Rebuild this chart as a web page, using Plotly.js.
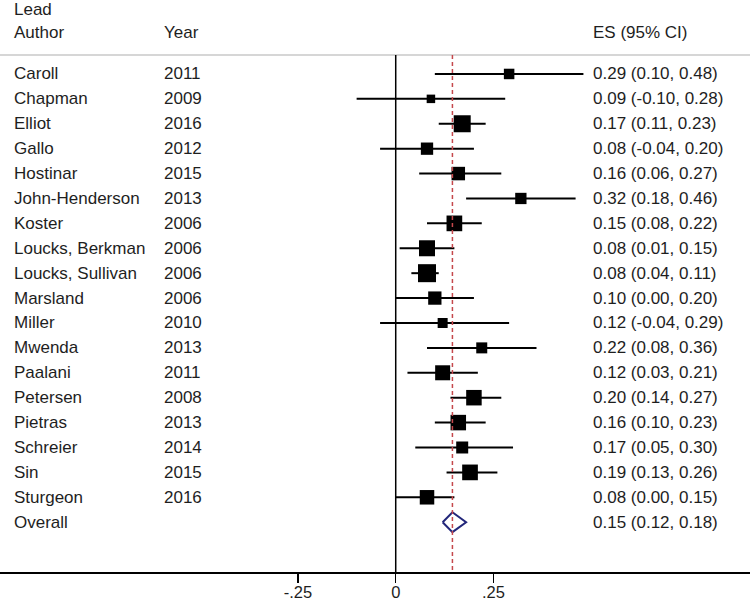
<!DOCTYPE html>
<html>
<head>
<meta charset="utf-8">
<script src="https://cdn.plot.ly/plotly-3.0.1.min.js"></script>
<style>html,body{margin:0;padding:0;background:#fff;}#chart{width:750px;height:602px;}</style>
</head>
<body>
<div id="chart"></div>
<script>
// ---- data ----
var authors = ["Caroll","Chapman","Elliot","Gallo","Hostinar","John-Henderson","Koster","Loucks, Berkman","Loucks, Sullivan","Marsland","Miller","Mwenda","Paalani","Petersen","Pietras","Schreier","Sin","Sturgeon"];
var years = ["2011","2009","2016","2012","2015","2013","2006","2006","2006","2006","2010","2013","2011","2008","2013","2014","2015","2016"];
var es = [0.29,0.09,0.17,0.08,0.16,0.32,0.15,0.08,0.08,0.10,0.12,0.22,0.12,0.20,0.16,0.17,0.19,0.08];
var lo = [0.10,-0.10,0.11,-0.04,0.06,0.18,0.08,0.01,0.04,0.00,-0.04,0.08,0.03,0.14,0.10,0.05,0.13,0.00];
var hi = [0.48,0.28,0.23,0.20,0.27,0.46,0.22,0.15,0.11,0.20,0.29,0.36,0.21,0.27,0.23,0.30,0.26,0.15];
var weights = [10.5,8.5,17,12.3,13.5,11.3,15.7,16,18,13.3,10,11,15,15.5,15.5,12,15.7,14.5];
var esLabels = ["0.29 (0.10, 0.48)","0.09 (-0.10, 0.28)","0.17 (0.11, 0.23)","0.08 (-0.04, 0.20)","0.16 (0.06, 0.27)","0.32 (0.18, 0.46)","0.15 (0.08, 0.22)","0.08 (0.01, 0.15)","0.08 (0.04, 0.11)","0.10 (0.00, 0.20)","0.12 (-0.04, 0.29)","0.22 (0.08, 0.36)","0.12 (0.03, 0.21)","0.20 (0.14, 0.27)","0.16 (0.10, 0.23)","0.17 (0.05, 0.30)","0.19 (0.13, 0.26)","0.08 (0.00, 0.15)"];
var overallName = "Overall";
var overallES = 0.145, overallLo = 0.12, overallHi = 0.18;
var overallLabel = "0.15 (0.12, 0.18)";
var tickVals = [-0.25, 0, 0.25];
var tickText = ["-.25", "0", ".25"];

// ---- build ----
var FONT = "Liberation Sans, Arial, Helvetica, sans-serif";
var TXT = "#1e1e1e";
var FS = 17;
var rows = authors.map(function(_, i){ return i; });
var overallRow = authors.length;

var studyTrace = {
  type: "scatter", mode: "markers",
  x: es, y: rows,
  marker: {symbol: "square", size: weights, color: "#000", opacity: 1, line: {width: 0}},
  error_x: {
    type: "data", symmetric: false,
    array: es.map(function(v,i){ return hi[i]-v; }),
    arrayminus: es.map(function(v,i){ return v-lo[i]; }),
    width: 0, thickness: 2, color: "#000"
  },
  hoverinfo: "skip", showlegend: false
};

var dh = 0.4;
var diamond = {
  type: "scatter", mode: "lines",
  x: [overallLo, overallES, overallHi, overallES, overallLo],
  y: [overallRow, overallRow - dh, overallRow, overallRow + dh, overallRow],
  fill: "toself", fillcolor: "#fff",
  line: {color: "#22267a", width: 2},
  hoverinfo: "skip", showlegend: false
};

var annotations = [];
function ann(text, xp, y){
  annotations.push({text: text, xref: "paper", yref: "y", x: xp, y: y,
    xanchor: "left", yanchor: "middle", showarrow: false,
    font: {family: FONT, size: FS, color: TXT}});
}
var xAuthor = 12/750, xYear = 162/750, xES = 591/750;
authors.forEach(function(a, i){
  ann(a, xAuthor, i);
  ann(years[i], xYear, i);
  ann(esLabels[i], xES, i);
});
ann(overallName, xAuthor, overallRow);
ann(overallLabel, xES, overallRow);
ann("Lead", xAuthor, -2.57);
ann("Author", xAuthor, -1.65);
ann("Year", xYear, -1.65);
ann("ES (95% CI)", xES, -1.65);

var topY = -0.76, botY = overallRow + 2;
var shapes = [
  {type: "line", xref: "paper", yref: "y", x0: 0, x1: 1, y0: topY, y1: topY,
   line: {color: "#c8c8c8", width: 1.5}},
  {type: "line", xref: "x", yref: "y", x0: 0, x1: 0, y0: topY, y1: botY,
   line: {color: "#000", width: 1.5}},
  {type: "line", xref: "x", yref: "y", x0: overallES, x1: overallES, y0: topY, y1: botY,
   line: {color: "#c5484c", width: 1.5, dash: "4px,3px"}}
];

var layout = {
  width: 750, height: 602,
  margin: {l: 0, r: 0, t: 0, b: 30},
  paper_bgcolor: "#fff", plot_bgcolor: "#fff",
  showlegend: false,
  xaxis: {
    range: [-1.012, 0.906], showgrid: false, zeroline: false,
    showline: true, linecolor: "#000", linewidth: 1.5,
    ticks: "outside", ticklen: 9, tickwidth: 1.5, tickcolor: "#000",
    ticklabelstandoff: -4,
    tickvals: tickVals, ticktext: tickText,
    tickfont: {family: FONT, size: 16.5, color: TXT}
  },
  yaxis: {
    range: [botY, -2.97], showgrid: false, zeroline: false,
    showline: false, showticklabels: false, ticks: ""
  },
  shapes: shapes,
  annotations: annotations
};

Plotly.newPlot("chart", [studyTrace, diamond], layout, {displayModeBar: false, staticPlot: true});
</script>
</body>
</html>
